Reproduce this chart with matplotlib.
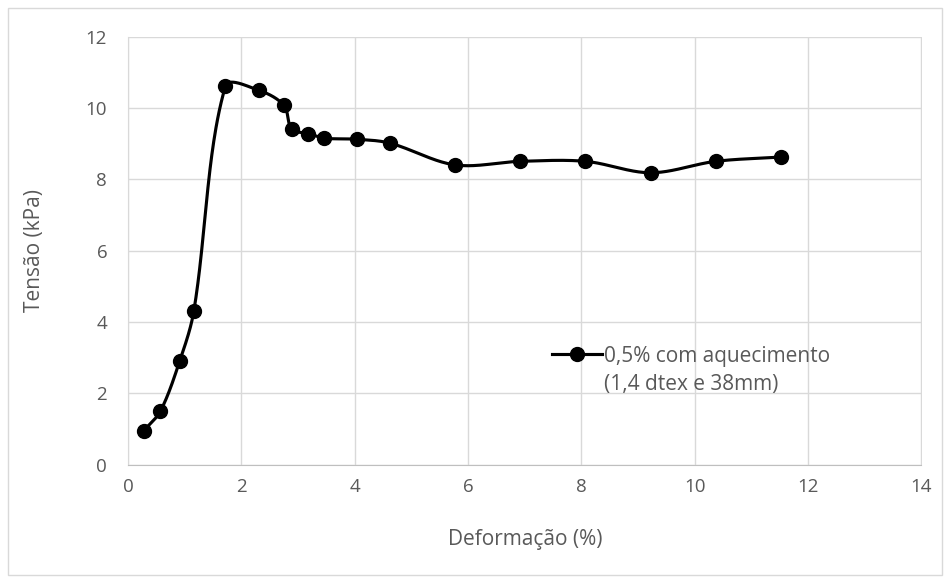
import matplotlib

matplotlib.use("Agg")

import matplotlib.pyplot as plt
import numpy as np
from matplotlib.patches import Rectangle
from matplotlib.lines import Line2D

plt.rcParams["font.family"] = ["Open Sans", "DejaVu Sans"]

deformacao = [0.28, 0.57, 0.91, 1.16, 1.72, 2.31, 2.75, 2.89, 3.18, 3.46, 4.04, 4.62,
              5.77, 6.92, 8.07, 9.22, 10.37, 11.52]
tensao = [0.95, 1.49, 2.89, 4.29, 10.61, 10.49, 10.07, 9.40, 9.28, 9.15, 9.12, 9.01,
          8.40, 8.50, 8.50, 8.18, 8.50, 8.62]
legenda_linha1 = "0,5% com aquecimento"
legenda_linha2 = "(1,4 dtex e 38mm)"

x_ticks = [0, 2, 4, 6, 8, 10, 12, 14]
y_ticks = [0, 2, 4, 6, 8, 10, 12]

TEXT_COLOR = "#595959"
GRID_COLOR = "#d9d9d9"


def excel_smooth(ax, x, y, n=50):
    # cubic Bezier through the points, control arms weighted by segment length
    # (done in pixel space, like the spreadsheet "smoothed line")
    p = ax.transData.transform(np.column_stack([x, y]))
    pts = np.vstack([p[0], p, p[-1]])
    t = np.linspace(0, 1, n)[:, None]
    out = []
    for i in range(1, len(pts) - 2):
        p0, p1, p2, p3 = pts[i - 1], pts[i], pts[i + 1], pts[i + 2]
        d01 = np.linalg.norm(p1 - p0)
        d12 = np.linalg.norm(p2 - p1)
        d23 = np.linalg.norm(p3 - p2)
        w1 = d12 / (d01 + d12) if d01 + d12 > 0 else 0.5
        w2 = d12 / (d12 + d23) if d12 + d23 > 0 else 0.5
        c1 = p1 + (p2 - p0) * w1 / 3.0
        c2 = p2 - (p3 - p1) * w2 / 3.0
        seg = ((1 - t) ** 3) * p1 + 3 * ((1 - t) ** 2) * t * c1 + 3 * (1 - t) * t ** 2 * c2 + t ** 3 * p2
        out.append(seg if i == 1 else seg[1:])
    out = ax.transData.inverted().transform(np.vstack(out))
    return out[:, 0], out[:, 1]


fig = plt.figure(figsize=(9.5, 5.82), dpi=100)
ax = fig.add_axes([128 / 950, 1 - 464.5 / 582, (921.5 - 128) / 950, (464.5 - 36.5) / 582])

# chart area border
fig.patches.append(Rectangle((8 / 950, 7 / 582), 934 / 950, 567 / 582, transform=fig.transFigure,
                             fill=False, edgecolor="#d9d9d9", linewidth=1))

ax.set_xlim(0, 14)
ax.set_ylim(0, 12)

sx, sy = excel_smooth(ax, deformacao, tensao)
ax.plot(sx, sy, color="black", linewidth=2.25, solid_capstyle="round", zorder=3)
ax.plot(deformacao, tensao, linestyle="none", marker="o", markersize=10, color="black", zorder=4)

ax.set_xticks(x_ticks)
ax.set_yticks(y_ticks)
ax.grid(True, color=GRID_COLOR, linewidth=1)
ax.set_axisbelow(True)
for side in ["top", "right"]:
    ax.spines[side].set_visible(False)
ax.spines["left"].set_color(GRID_COLOR)
ax.spines["bottom"].set_color("#bfbfbf")
ax.tick_params(axis="both", length=0, labelsize=13.5, labelcolor=TEXT_COLOR)
ax.tick_params(axis="x", pad=10)
ax.tick_params(axis="y", pad=15)

ax.set_xlabel("Deformação (%)", fontsize=15, color=TEXT_COLOR)
ax.set_ylabel("Tensão (kPa)", fontsize=15, color=TEXT_COLOR)
ax.xaxis.set_label_coords(0.5, -0.151)
ax.yaxis.set_label_coords(-0.104, 0.5)

handle = Line2D([], [], color="black", linewidth=2.25, marker="o", markersize=10)
blank = Line2D([], [], color="none")
leg = ax.legend([handle, blank], [legenda_linha1, legenda_linha2], loc="center left",
                bbox_to_anchor=(0.511, 0.22), frameon=False, fontsize=15,
                handlelength=2.4, handletextpad=0.1, labelspacing=0.35)
for txt in leg.get_texts():
    txt.set_color(TEXT_COLOR)

fig.savefig("out.png", dpi=100)
